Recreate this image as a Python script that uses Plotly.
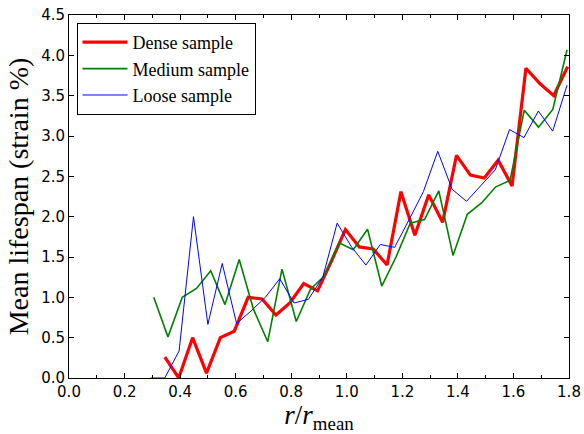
import numpy as np
import plotly.graph_objects as go

# Bin centres (r / r_mean) for each sample
x_dense = np.round(np.arange(30) * 0.05 + 0.345, 4)
x_medium = np.linspace(0.305, 1.793, 30)
x_loose = np.linspace(0.293, 1.793, 30)

# Mean lifespan (strain %)
dense = [0.26, 0.0, 0.50, 0.06, 0.50, 0.58, 1.00, 0.98, 0.78, 0.93,
         1.17, 1.08, 1.45, 1.84, 1.625, 1.60, 1.40, 2.31, 1.77, 2.27,
         1.93, 2.76, 2.515, 2.48, 2.70, 2.38, 3.84, 3.65, 3.50, 3.86]
medium = [1.00, 0.51, 1.00, 1.11, 1.33, 0.91, 1.47, 0.85, 0.45, 1.35,
          0.70, 1.10, 1.27, 1.675, 1.59, 1.845, 1.14, 1.50, 1.92, 1.965,
          2.32, 1.52, 2.03, 2.17, 2.37, 2.45, 3.32, 3.11, 3.33, 4.07]
loose = [0.0, 0.0, 0.335, 2.00, 0.665, 1.42, 0.675, 0.83, 1.00, 1.23,
         0.93, 0.975, 1.25, 1.92, 1.625, 1.40, 1.655, 1.62, 1.96, 2.31,
         2.81, 2.34, 2.19, 2.39, 2.58, 3.08, 2.98, 3.31, 3.06, 3.63]

names = ["Dense sample", "Medium sample", "Loose sample"]
colors = ["#ff0000", "#008000", "#0000ff"]
widths = [3.2, 1.6, 1.0]

fig = go.Figure()
for xs, ys, name, c, w in zip([x_dense, x_medium, x_loose],
                              [dense, medium, loose], names, colors, widths):
    fig.add_trace(go.Scatter(x=xs, y=ys, mode="lines", name=name,
                             line=dict(color=c, width=w)))

tick_font = dict(family="DejaVu Sans", size=15, color="black")
serif = "Liberation Serif"

fig.update_layout(
    width=584, height=434,
    margin=dict(l=68.5, r=15.3, t=15, b=56.3),
    plot_bgcolor="white", paper_bgcolor="white",
    showlegend=True,
    legend=dict(
        x=0.015, y=0.978, xanchor="left", yanchor="top",
        bgcolor="white", bordercolor="black", borderwidth=1,
        font=dict(family=serif, size=18, color="black"),
        itemwidth=45,
    ),
    xaxis=dict(
        range=[0, 1.8], dtick=0.2, tick0=0, tickformat=".1f",
        ticks="inside", ticklen=5, tickcolor="black", automargin=False,
        showline=True, linecolor="black", linewidth=1, mirror="allticks",
        showgrid=False, zeroline=False, tickfont=tick_font,
        minor=dict(dtick=0.1, ticks="inside", ticklen=3, tickcolor="black"),
        title=dict(text="<i>r</i>/<i>r</i><sub>mean</sub>",
                   font=dict(family=serif, size=27, color="black"),
                   standoff=2),
    ),
    yaxis=dict(
        range=[0, 4.5], dtick=0.5, tick0=0, tickformat=".1f",
        ticks="inside", ticklen=5, tickcolor="black", automargin=False,
        showline=True, linecolor="black", linewidth=1, mirror="allticks",
        showgrid=False, zeroline=False, tickfont=tick_font,
        title=dict(text="Mean lifespan (strain %)",
                   font=dict(family=serif, size=28, color="black"),
                   standoff=4),
    ),
)

fig.write_html("out.html")
